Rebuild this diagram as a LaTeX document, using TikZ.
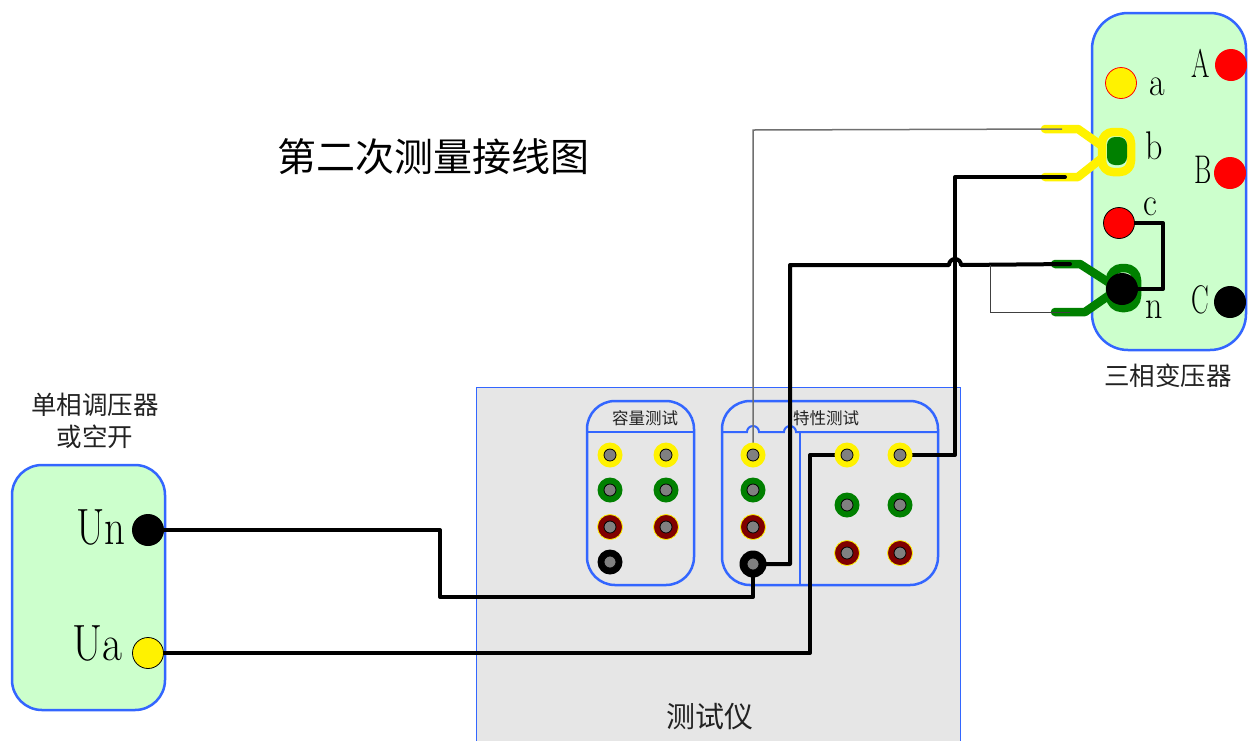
\documentclass[tikz,border=0pt]{standalone}
\usepackage{fontspec}
\usepackage{graphicx}
\newfontfamily\cjk{Noto Sans CJK SC}
\definecolor{lg}{HTML}{CCFFCC}
\definecolor{bl}{HTML}{3366FF}
\definecolor{dred}{HTML}{800000}
\definecolor{gr}{HTML}{008000}
\definecolor{panelbg}{HTML}{E6E6E6}
\definecolor{wiregray}{HTML}{707070}
\definecolor{txt}{HTML}{222222}
\newcommand{\nar}[2][0.72]{\scalebox{#1}[1]{#2}}
\newcommand{\jack}[5][25pt]{%
  \node[jackout, minimum size=#1, fill=#4, draw=#5] (#2) at (#3) {};
  \node[jackin] (#2-in) at (#3) {};}
\begin{document}
\begin{tikzpicture}[x=1pt,y=-1pt,
  box/.style={draw=bl, line width=2.5pt, fill=lg},
  pnl/.style={draw=bl, line width=2.5pt},
  wire/.style={draw=black, line width=4pt, line join=round},
  thinwire/.style={draw=wiregray, line width=1.5pt},
  jackout/.style={circle, inner sep=0pt, line width=0.8pt},
  jackin/.style={circle, fill=gray, draw=black, line width=0.8pt, minimum size=12pt, inner sep=0pt},
  term/.style={circle, inner sep=0pt, minimum size=31pt, line width=0.8pt},
  fork/.style={line width=8.5pt, line cap=round, line join=round},
  latin/.style={font=\fontsize{40}{40}\selectfont, inner sep=0pt, text=black},
  big/.style={font=\fontsize{51}{51}\selectfont, inner sep=0pt, text=black},
]
\useasboundingbox (0,0) rectangle (1256,740);
\fill[white] (0,0) rectangle (1256,740);

% tester box
\fill[panelbg] (476,387) rectangle (960,741);
\draw[bl, line width=1pt] (476,741) -- (476,387) -- (960,387) -- (960,741);

% panels
\draw[pnl, rounded corners=28pt] (587,401) rectangle (694,585);
\draw[pnl, line width=2pt] (587,432) -- (694,432);
\draw[pnl, rounded corners=28pt] (722,401) rectangle (938,585);
\draw[pnl, line width=2pt] (722,432) -- (747,432) arc[start angle=180, end angle=0, radius=6pt]
  -- (784,432) arc[start angle=180, end angle=0, radius=6pt] -- (938,432);
\draw[pnl, line width=2pt] (800,432) -- (800,585);

% boxes
\draw[box, rounded corners=30pt] (12,465) rectangle (165,710);
\draw[box, rounded corners=36pt] (1092,13) rectangle (1246,350);

% forks
\draw[fork, yellow, rounded corners=11pt] (1102,132) rectangle (1131,172);
\draw[fork, yellow] (1045,129) -- (1078,129) -- (1102,146);
\draw[fork, yellow] (1045,177) -- (1078,177) -- (1102,158);
\draw[fork, gr, rounded corners=12pt] (1110,268) rectangle (1137,308);
\draw[fork, gr] (1055,264) -- (1080,264) -- (1108,282);
\draw[fork, gr] (1055,312) -- (1085,312) -- (1108,296);
\node[fill=gr, rounded corners=8pt, minimum width=20pt, minimum height=28pt, inner sep=0pt] (tb) at (1117,151) {};

\coordinate (byt) at (1062,129);
\coordinate (byb) at (1065,177);
\coordinate (gnt) at (1070,264);
\coordinate (gnb) at (1070,312);
\coordinate (j1) at (990,265);

% terminal coordinates (nodes drawn later)
\coordinate (cUn) at (148,530);
\coordinate (cUa) at (148,653);
\coordinate (cty) at (753,455);
\coordinate (ctk) at (753,564);
\coordinate (cry1) at (847,455);
\coordinate (cry2) at (900,455);
\coordinate (ctc) at (1119,223);
\coordinate (ctn) at (1122,289);

% wires
\draw[thinwire] (cty) -- (753,130) -- (byt);
\draw[wire] (cUn) -- (440,530) -- (440,597) -- (753,597) -- (ctk);
\draw[wire] (cUa) -- (810,653) -- (810,455) -- (cry1);
\draw[wire, line cap=round] (ctk) -- (790,564) -- (790,265) -- (949,265)
  arc[start angle=180, end angle=0, radius=6pt] -- (gnt);
\draw[wire, line cap=round] (cry2) -- (955,455) -- (955,177) -- (byb);
\draw[draw=black!75, line width=1pt] (j1) |- (gnb);
\draw[wire] (ctc) -- (1163,223) -- (1163,289) -- (ctn);

% jacks: capacity panel
\jack{k1}{610,455}{yellow}{none}
\jack{k2}{666,455}{yellow}{none}
\jack{k3}{610,490}{gr}{none}
\jack{k4}{666,490}{gr}{none}
\jack{k5}{610,527}{dred}{yellow}
\jack{k6}{666,527}{dred}{yellow}
\jack{k7}{610,562}{black}{none}
% characteristic panel
\jack{ty}{753,455}{yellow}{none}
\jack{tg}{753,490}{gr}{none}
\jack{tr}{753,527}{dred}{yellow}
\jack[27pt]{tk}{753,564}{black}{none}
\jack{ry1}{847,455}{yellow}{none}
\jack{ry2}{900,455}{yellow}{none}
\jack{rg1}{847,505}{gr}{none}
\jack{rg2}{900,505}{gr}{none}
\jack{rr1}{847,553}{dred}{yellow}
\jack{rr2}{900,553}{dred}{yellow}

% source terminals
\node[term, fill=black, minimum size=32pt] (Un) at (cUn) {};
\node[term, fill=yellow, draw=black] (Ua) at (cUa) {};
% transformer terminals
\node[term, fill=yellow, draw=red] (ta) at (1121,83) {};
\node[term, fill=red, minimum size=32pt] (tA) at (1231,65) {};
\node[term, fill=red, minimum size=32pt] (tB) at (1230,173) {};
\node[term, fill=red, draw=black] (tc) at (ctc) {};
\node[term, fill=black, minimum size=32pt] (tn) at (ctn) {};
\node[term, fill=black, minimum size=32pt] (tC) at (1230,302) {};

% texts
\node[font=\cjk\fontsize{39}{39}\selectfont, text=black] (title) at (433,157) {第二次测量接线图};
\node[font=\cjk\fontsize{25.5}{25.5}\selectfont, text=txt] (src1) at (95,405) {单相调压器};
\node[font=\cjk\fontsize{25.5}{25.5}\selectfont, text=txt] (src2) at (95,437) {或空开};
\node[font=\cjk\fontsize{25.5}{25.5}\selectfont, text=txt] (trf) at (1168,376) {三相变压器};
\node[font=\cjk\fontsize{16.5}{16.5}\selectfont, text=txt] (cap) at (645,418) {容量测试};
\node[font=\cjk\fontsize{16.5}{16.5}\selectfont, text=txt] (chr) at (826,418) {特性测试};
\node[font=\cjk\fontsize{29}{29}\selectfont, text=txt] (tst) at (710,717) {测试仪};

\node[big, anchor=base east] (lUn) at (126,544) {\nar[0.8]{Un}};
\node[big, anchor=base east] (lUa) at (123,660) {\nar[0.85]{Ua}};
\node[latin, anchor=base west] (la) at (1149,95) {\nar[0.85]{a}};
\node[latin, anchor=base east] (lA) at (1210,77) {\nar[0.66]{A}};
\node[latin, anchor=base west] (lb) at (1145,159) {\nar[0.85]{b}};
\node[latin, anchor=base east] (lB) at (1212,183) {\nar[0.66]{B}};
\node[latin, anchor=base west] (lc) at (1143,215) {\nar[0.85]{c}};
\node[latin, anchor=base west] (ln) at (1145,318) {\nar[0.85]{n}};
\node[latin, anchor=base east] (lC) at (1209,313) {\nar[0.66]{C}};
\end{tikzpicture}
\end{document}
